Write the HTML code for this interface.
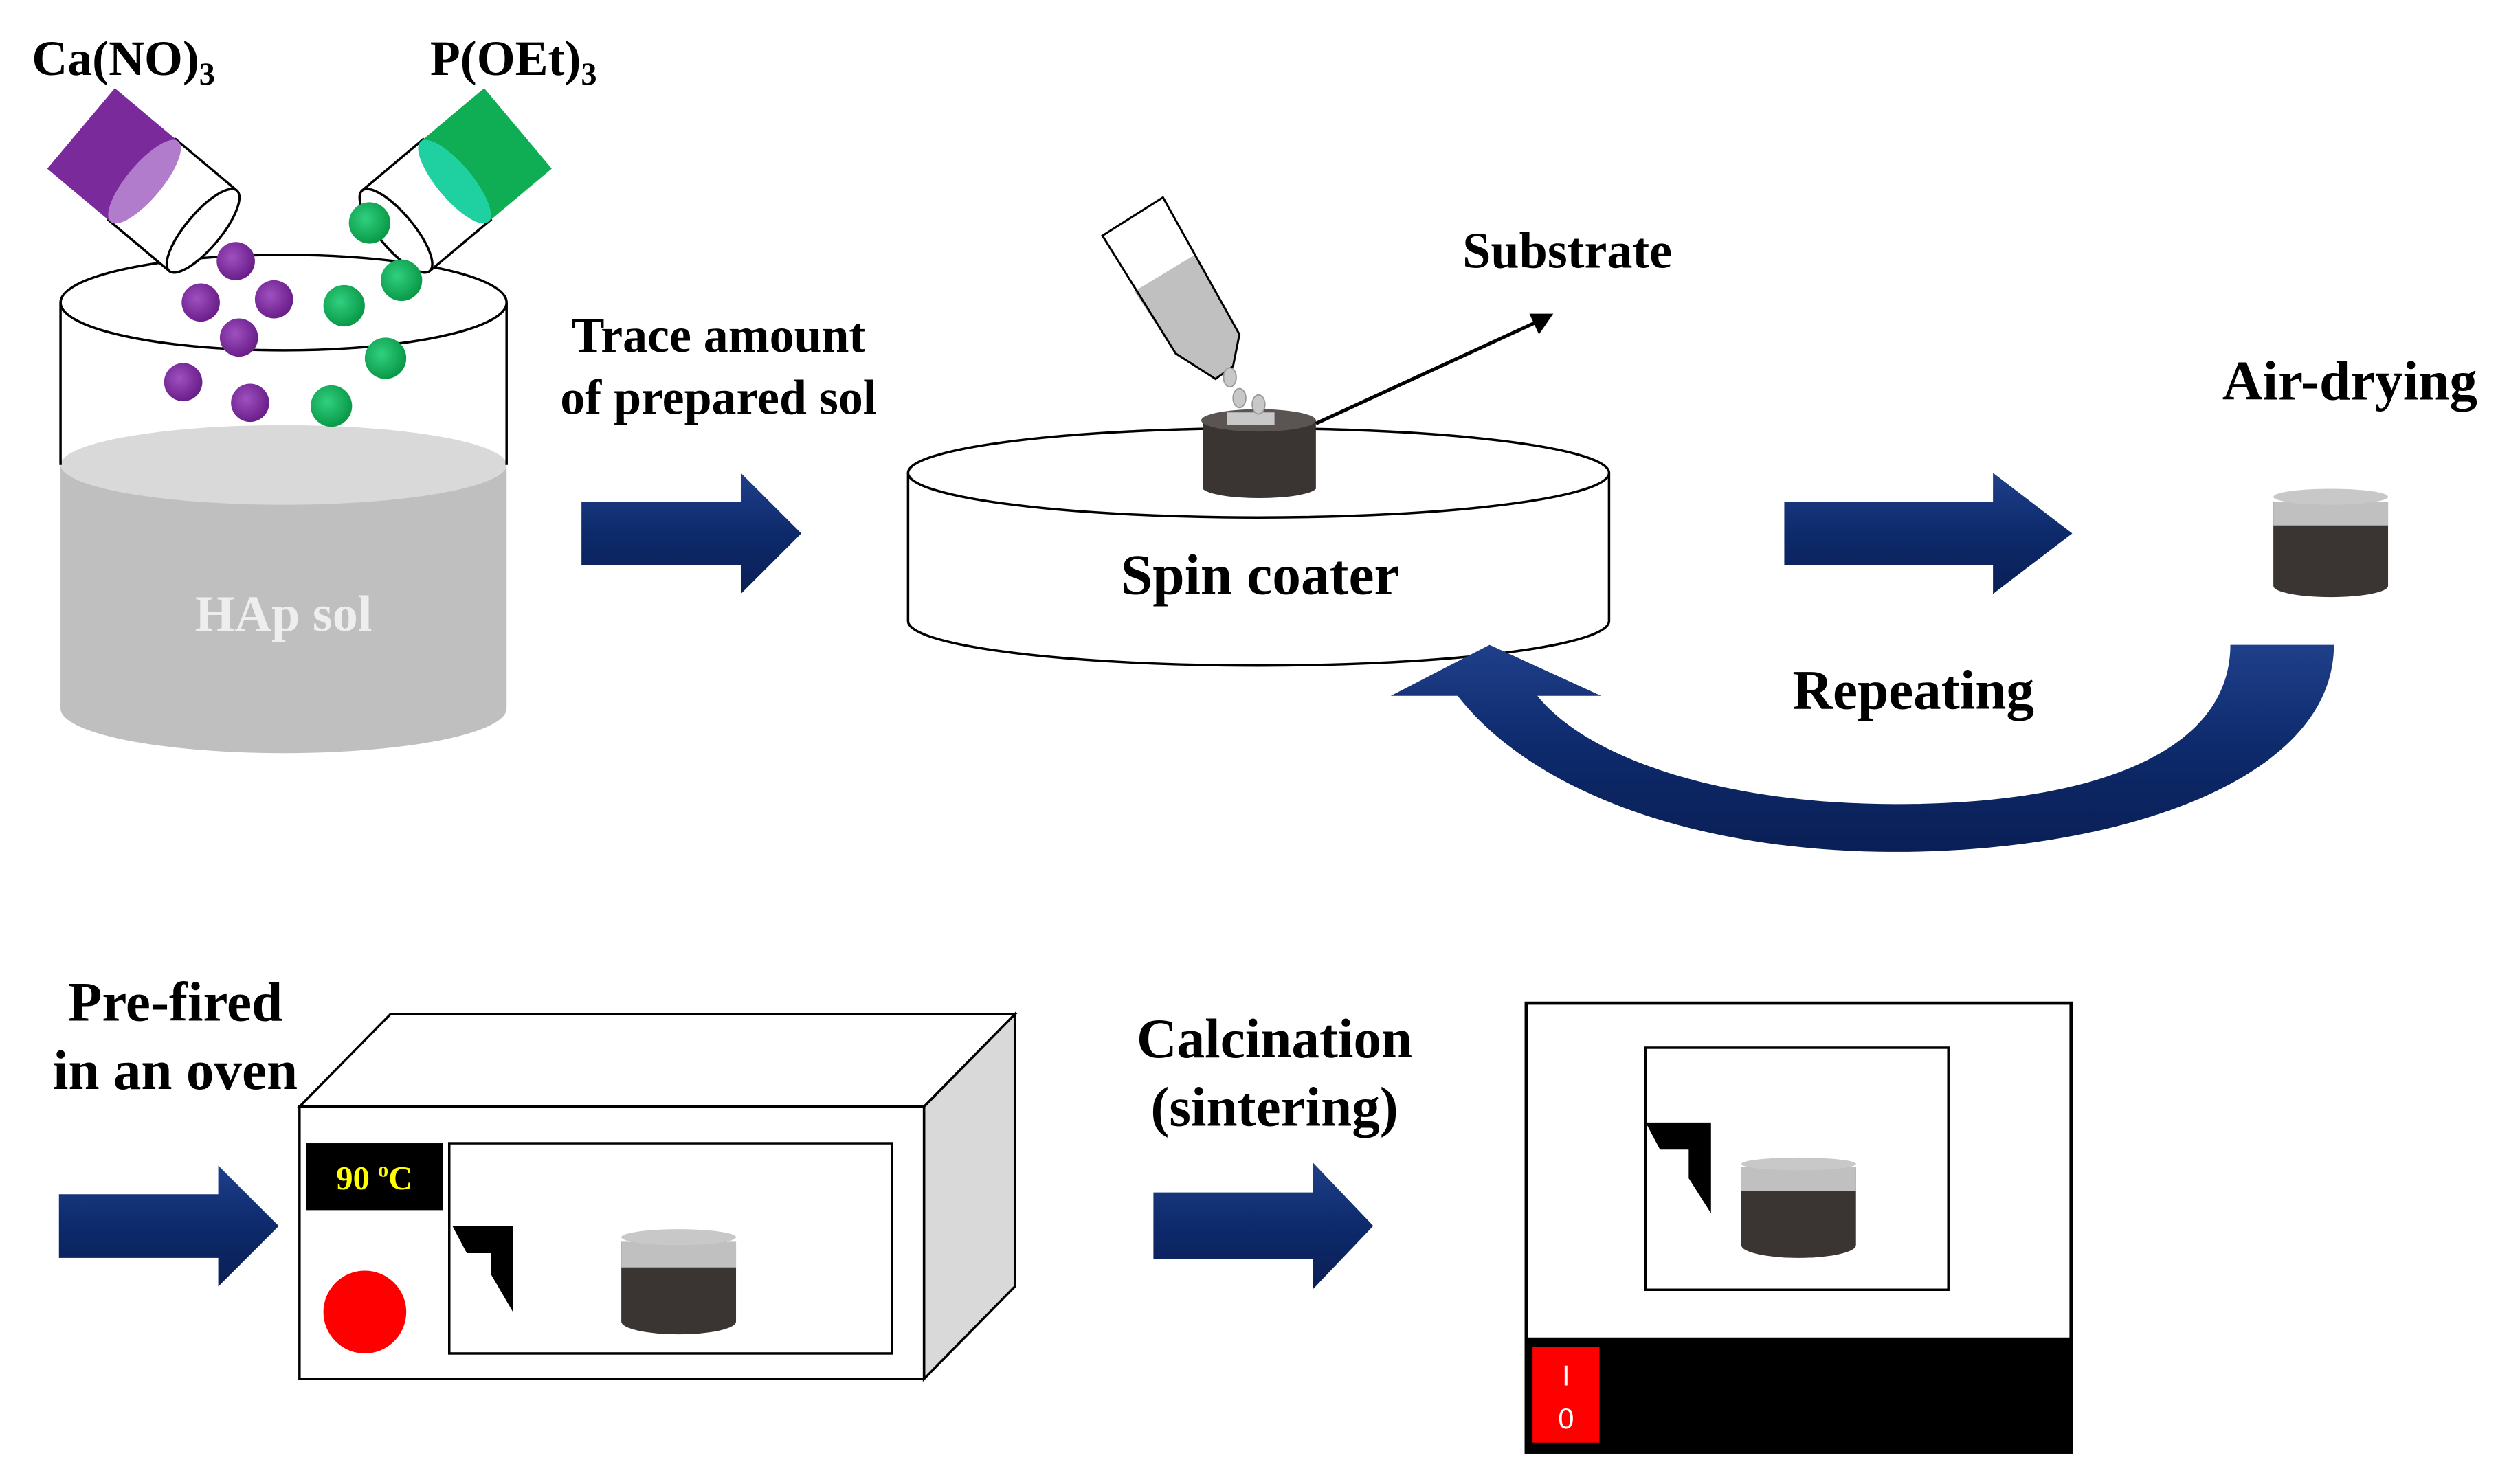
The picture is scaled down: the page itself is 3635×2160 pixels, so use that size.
<!DOCTYPE html>
<html><head><meta charset="utf-8"><style>html,body{margin:0;padding:0;background:#fff}svg{display:block}text{font-family:"Liberation Serif",serif;font-weight:bold}</style></head>
<body>
<svg width="3635" height="2160" viewBox="0 0 1568 932" preserveAspectRatio="none" xmlns="http://www.w3.org/2000/svg">
<defs>
<linearGradient id="ag" x1="0" y1="0" x2="0" y2="1"><stop offset="0" stop-color="#1f3f8a"/><stop offset="0.5" stop-color="#0d2a6b"/><stop offset="1" stop-color="#0a1f55"/></linearGradient>
<radialGradient id="pb" cx="0.4" cy="0.4" r="0.6"><stop offset="0" stop-color="#a050c0"/><stop offset="1" stop-color="#6a1f8a"/></radialGradient>
<radialGradient id="gb" cx="0.4" cy="0.4" r="0.6"><stop offset="0" stop-color="#30d080"/><stop offset="1" stop-color="#0a9a48"/></radialGradient>
<g id="arrow"><path d="M0,18 L100,18 L100,0 L138,38 L100,76 L100,58 L0,58 Z" fill="url(#ag)"/></g>
</defs>
<rect width="1568" height="932" fill="#fff"/>

<!-- Beaker -->
<path d="M38,292 L38,445 A140,28 0 0 0 318,445 L318,292 Z" fill="#bfbfbf"/>
<ellipse cx="178" cy="292" rx="140" ry="25" fill="#d9d9d9"/>
<ellipse cx="178" cy="190" rx="140" ry="30" fill="none" stroke="#000" stroke-width="1.5"/>
<line x1="38" y1="190" x2="38" y2="292" stroke="#000" stroke-width="1.5"/>
<line x1="318" y1="190" x2="318" y2="292" stroke="#000" stroke-width="1.5"/>
<text x="178" y="396" font-size="32" fill="#eeeeee" text-anchor="middle">HAp sol</text>

<!-- purple bottle -->
<g transform="translate(93,116) rotate(40)">
<rect x="-5" y="-33" width="50" height="66" fill="#fff" stroke="#000" stroke-width="1.5"/>
<ellipse cx="45" cy="0" rx="11" ry="33" fill="#fff" stroke="#000" stroke-width="1.5"/>
<rect x="-55" y="-33" width="52" height="66" fill="#7b2a9c"/>
<ellipse cx="-3" cy="0" rx="11" ry="33" fill="#b27ccc"/>
</g>
<!-- green bottle -->
<g transform="translate(283,116) rotate(140)">
<rect x="-5" y="-33" width="50" height="66" fill="#fff" stroke="#000" stroke-width="1.5"/>
<ellipse cx="45" cy="0" rx="11" ry="33" fill="#fff" stroke="#000" stroke-width="1.5"/>
<rect x="-55" y="-33" width="52" height="66" fill="#0fae55"/>
<ellipse cx="-3" cy="0" rx="11" ry="33" fill="#1fd0a0"/>
</g>
<g fill="url(#pb)">
<circle cx="148" cy="164" r="12"/><circle cx="126" cy="190" r="12"/><circle cx="172" cy="188" r="12"/><circle cx="150" cy="212" r="12"/><circle cx="115" cy="240" r="12"/><circle cx="157" cy="253" r="12"/>
</g>
<g fill="url(#gb)">
<circle cx="232" cy="140" r="13"/><circle cx="252" cy="176" r="13"/><circle cx="216" cy="192" r="13"/><circle cx="242" cy="225" r="13"/><circle cx="208" cy="255" r="13"/>
</g>
<text x="20" y="47" font-size="31">Ca(NO)<tspan font-size="20" dy="6">3</tspan></text>
<text x="270" y="47" font-size="31">P(OEt)<tspan font-size="20" dy="6">3</tspan></text>

<!-- Arrow 1 -->
<use href="#arrow" transform="translate(365,297)"/>
<text x="451" y="221" font-size="31" text-anchor="middle">Trace amount</text>
<text x="451" y="260" font-size="31" text-anchor="middle">of prepared sol</text>

<!-- Spin coater -->
<path d="M570,297 L570,390 A220,28 0 0 0 1010,390 L1010,297" fill="#fff" stroke="#000" stroke-width="1.5"/>
<ellipse cx="790" cy="297" rx="220" ry="28" fill="#fff" stroke="#000" stroke-width="1.5"/>
<text x="791" y="373" font-size="36" text-anchor="middle">Spin coater</text>
<path d="M755,264 L755,307 A36,7 0 0 0 826,307 L826,264 Z" fill="#3a3533"/>
<ellipse cx="790" cy="264" rx="36" ry="7" fill="#5a5553"/>
<rect x="770" y="259" width="30" height="8" fill="#c8c8c8"/>
<!-- pipette -->
<polygon points="712,183 750,160 778,210 774,230 763,238 738,222" fill="#c0c0c0"/>
<polygon points="692,148 730,124 778,210 774,230 763,238 738,222" fill="none" stroke="#000" stroke-width="1.3"/>
<g fill="#c8c8c8" stroke="#999" stroke-width="0.8"><ellipse cx="772" cy="237" rx="4" ry="6"/><ellipse cx="778" cy="250" rx="4" ry="6"/><ellipse cx="790" cy="254" rx="4" ry="6"/></g>
<line x1="826" y1="266" x2="965" y2="202" stroke="#000" stroke-width="2.2"/>
<polygon points="975,197 960,197 966,210" fill="#000"/>
<text x="918" y="168" font-size="32">Substrate</text>

<!-- Arrow 2 -->
<use href="#arrow" transform="translate(1120,297) scale(1.31,1)"/>
<text x="1395" y="251" font-size="35">Air-drying</text>
<path d="M1427,315 L1427,368 A36,7 0 0 0 1499,368 L1499,315 Z" fill="#3a3533"/>
<path d="M1427,315 L1427,330 L1499,330 L1499,315 Z" fill="#c0c0c0"/>
<ellipse cx="1463" cy="312" rx="36" ry="5" fill="#c8c8c8"/>
<text x="1201" y="445" font-size="35" text-anchor="middle">Repeating</text>
<path d="M1465,405 C1465,490 1330,535 1190,535 C1060,535 960,495 915,437 L873,437 L935,405 L1005,437 L965,437 C1000,480 1090,505 1190,505 C1320,505 1400,470 1400,405 Z" fill="url(#ag)"/>

<!-- Bottom row -->
<text x="110" y="641" font-size="35" text-anchor="middle">Pre-fired</text>
<text x="110" y="684" font-size="35" text-anchor="middle">in an oven</text>
<use href="#arrow" transform="translate(37,732)"/>
<!-- oven -->
<polygon points="188,695 245,637 637,637 580,695" fill="#fff" stroke="#000" stroke-width="1.5"/>
<polygon points="580,695 637,637 637,808 580,866" fill="#d9d9d9" stroke="#000" stroke-width="1.5"/>
<rect x="188" y="695" width="392" height="171" fill="#fff" stroke="#000" stroke-width="1.5"/>
<rect x="192" y="718" width="86" height="42" fill="#000"/>
<text x="235" y="747" font-size="21" fill="#ffff00" text-anchor="middle">90 <tspan font-size="13" dy="-8">o</tspan><tspan dy="8">C</tspan></text>
<circle cx="229" cy="824" r="26" fill="#ff0000"/>
<rect x="282" y="718" width="278" height="132" fill="#fff" stroke="#000" stroke-width="1.5"/>
<polygon points="284,770 322,770 322,824 308,800 308,787 293,787" fill="#000"/>
<path d="M390,780 L390,830 A36,8 0 0 0 462,830 L462,780 Z" fill="#3a3533"/>
<path d="M390,780 L390,796 L462,796 L462,780 Z" fill="#c0c0c0"/>
<ellipse cx="426" cy="777" rx="36" ry="5" fill="#c8c8c8"/>

<text x="800" y="664" font-size="35" text-anchor="middle">Calcination</text>
<text x="800" y="707" font-size="35" text-anchor="middle">(sintering)</text>
<use href="#arrow" transform="translate(724,730) scale(1,1.05)"/>
<!-- furnace -->
<rect x="958" y="630" width="342" height="282" fill="#fff" stroke="#000" stroke-width="2"/>
<rect x="958" y="840" width="342" height="72" fill="#000"/>
<rect x="962" y="846" width="42" height="60" fill="#ff0000"/>
<text x="983" y="870" font-size="18" fill="#fff" text-anchor="middle" style="font-family:'Liberation Sans',sans-serif;font-weight:normal">I</text>
<text x="983" y="897" font-size="18" fill="#fff" text-anchor="middle" style="font-family:'Liberation Sans',sans-serif;font-weight:normal">0</text>
<rect x="1033" y="658" width="190" height="152" fill="#fff" stroke="#000" stroke-width="1.5"/>
<polygon points="1033,705 1074,705 1074,762 1060,740 1060,722 1042,722" fill="#000"/>
<path d="M1093,733 L1093,782 A36,8 0 0 0 1165,782 L1165,733 Z" fill="#3a3533"/>
<path d="M1093,733 L1093,748 L1165,748 L1165,733 Z" fill="#c0c0c0"/>
<ellipse cx="1129" cy="731" rx="36" ry="4" fill="#c8c8c8"/>
</svg>
</body></html>
